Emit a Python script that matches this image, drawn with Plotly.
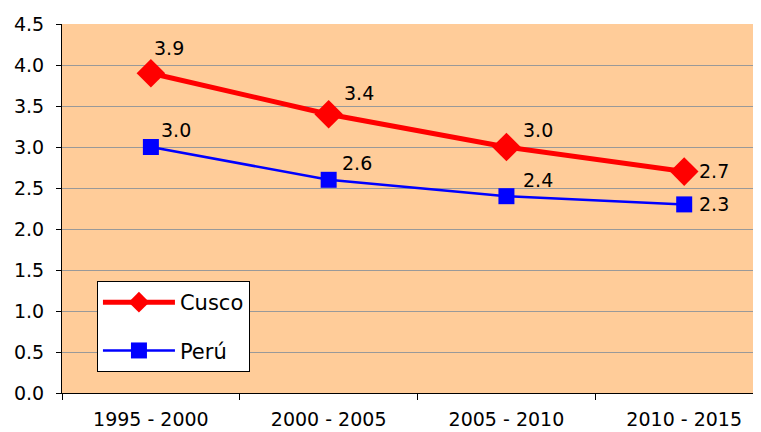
import plotly.graph_objects as go

periods = ["1995 - 2000", "2000 - 2005", "2005 - 2010", "2010 - 2015"]
cusco = [3.9, 3.4, 3.0, 2.7]
peru = [3.0, 2.6, 2.4, 2.3]
y_ticks = [0.0, 0.5, 1.0, 1.5, 2.0, 2.5, 3.0, 3.5, 4.0, 4.5]

FONT = "DejaVu Sans, Arial, sans-serif"
FS = 19

fig = go.Figure()
fig.add_trace(go.Scatter(
    x=periods, y=cusco, name="Cusco", mode="lines+markers", legendgroup="c",
    line=dict(color="#FF0000", width=5),
    marker=dict(symbol="diamond", size=22, color="#FF0000"),
))
fig.add_trace(go.Scatter(
    x=periods, y=peru, name="Perú", mode="lines+markers", legendgroup="p",
    line=dict(color="#0000FF", width=2.5),
    marker=dict(symbol="square", size=16, color="#0000FF"),
))

cusco_shifts = [(18, 25), (30, 21), (32, 17), (30, 1)]
peru_shifts = [(25, 17), (28, 17), (32, 16), (30, 0)]
for xs, vals, shifts in [(periods, cusco, cusco_shifts), (periods, peru, peru_shifts)]:
    for xv, yv, (dx, dy) in zip(xs, vals, shifts):
        fig.add_annotation(x=xv, y=yv, text=f"{yv:.1f}", showarrow=False,
                           xshift=dx, yshift=dy,
                           font=dict(family=FONT, size=FS, color="#000000"))

# page body has an 8px margin: compensate so the plot area lands where it should
fig.update_layout(
    width=753, height=424,
    margin=dict(l=54, r=0, t=16, b=39),
    paper_bgcolor="#FFFFFF",
    plot_bgcolor="#FFCC99",
    font=dict(family=FONT, size=FS, color="#000000"),
    showlegend=True,
    legend=dict(
        x=0.05, y=0.3035, xanchor="left", yanchor="top",
        bgcolor="#FFFFFF", bordercolor="#000000", borderwidth=1,
        font=dict(family=FONT, size=21),
        itemwidth=72, tracegroupgap=18, traceorder="grouped",
    ),
)
fig.update_xaxes(
    type="category", range=[-0.5, 3.432], automargin=False,
    showline=True, linecolor="#000000", linewidth=1,
    ticks="outside", ticklen=6, tickcolor="#000000", tickson="boundaries",
    showgrid=False, tickfont=dict(size=FS), ticklabelstandoff=9,
)
fig.update_yaxes(
    range=[0, 4.5], tickvals=y_ticks, ticktext=[f"{v:.1f}" for v in y_ticks],
    automargin=False,
    showline=True, linecolor="#000000", linewidth=1,
    ticks="outside", ticklen=5, tickcolor="#000000",
    showgrid=True, gridcolor="#999999", gridwidth=1,
    zeroline=False, tickfont=dict(size=FS), ticklabelstandoff=8,
)

fig.write_html("out.html")
